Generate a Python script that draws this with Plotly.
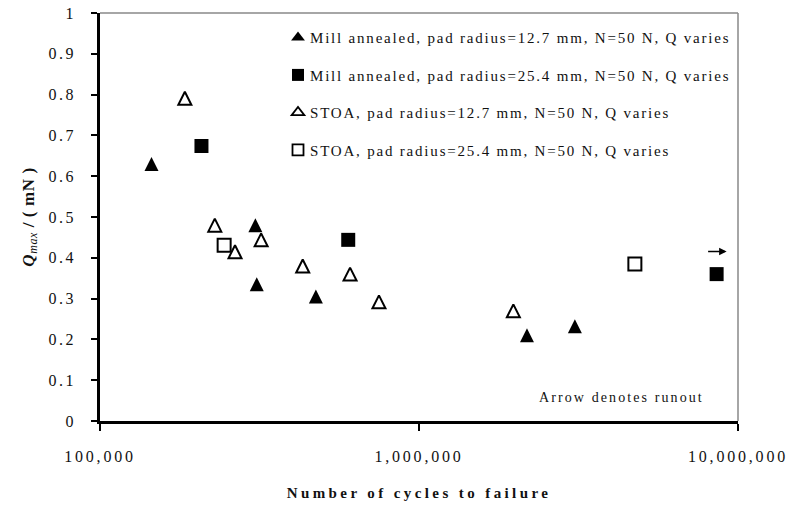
import numpy as np
import plotly.graph_objects as go

# ---------------- data ----------------
ma127_x = [145000, 307000, 310000, 475000, 2180000, 3080000]
ma127_y = [0.63, 0.48, 0.335, 0.305, 0.21, 0.232]

ma254_x = [208000, 600000, 8570000]
ma254_y = [0.674, 0.444, 0.36]

stoa127_x = [184500, 229000, 265000, 320000, 432000, 608000, 749000, 1976000]
stoa127_y = [0.791, 0.48, 0.415, 0.444, 0.38, 0.36, 0.292, 0.27]

stoa254_x = [245000, 4750000]
stoa254_y = [0.431, 0.385]

series_names = [
    "Mill annealed, pad radius=12.7 mm, N=50 N, Q varies",
    "Mill annealed, pad radius=25.4 mm, N=50 N, Q varies",
    "STOA, pad radius=12.7 mm, N=50 N, Q varies",
    "STOA, pad radius=25.4 mm, N=50 N, Q varies",
]

x_tick_vals = [100000, 1000000, 10000000]
x_tick_text = ["100,000", "1,000,000", "10,000,000"]

runout_x = 8570000
runout_y = 0.36

FONT = "Liberation Serif"

data_markers = [
    dict(symbol="arrow-down", angle=180, standoff=7, size=14, color="black", line=dict(width=0)),
    dict(symbol="square", size=14, color="black", line=dict(width=0)),
    dict(symbol="arrow-down-open", angle=180, standoff=6.5, size=13, color="black",
         line=dict(width=2, color="black")),
    dict(symbol="square-open", size=13, color="black", line=dict(width=2, color="black")),
]
legend_markers = [
    dict(symbol="triangle-up", size=12, color="black", line=dict(width=0)),
    dict(symbol="square", size=12, color="black", line=dict(width=0)),
    dict(symbol="triangle-up-open", size=11, color="black", line=dict(width=1.8, color="black")),
    dict(symbol="square-open", size=11, color="black", line=dict(width=1.8, color="black")),
]
series_x = [ma127_x, ma254_x, stoa127_x, stoa254_x]
series_y = [ma127_y, ma254_y, stoa127_y, stoa254_y]

fig = go.Figure()
for i in range(4):
    fig.add_trace(go.Scatter(
        x=series_x[i], y=series_y[i], mode="markers", name=series_names[i],
        legendgroup=f"g{i}", showlegend=False, marker=data_markers[i],
    ))
for i in range(4):
    fig.add_trace(go.Scatter(
        x=[None], y=[None], mode="markers", name=series_names[i],
        legendgroup=f"g{i}", showlegend=True, marker=legend_markers[i],
        hoverinfo="skip",
    ))

fig.update_layout(
    width=790, height=512,
    margin=dict(l=100, r=52, t=13, b=91),
    paper_bgcolor="white", plot_bgcolor="white",
    font=dict(family=FONT, size=16, color="#111"),
    showlegend=True,
    legend=dict(
        x=0.279, y=0.980, xanchor="left", yanchor="top",
        bgcolor="rgba(0,0,0,0)", borderwidth=0,
        font=dict(family=FONT, size=15, color="#111"),
        tracegroupgap=15,
    ),
    xaxis=dict(
        type="log", range=[5, 7],
        tickvals=x_tick_vals, ticktext=x_tick_text,
        ticks="outside", ticklen=7, tickwidth=2, tickcolor="black",
        showline=True, linecolor="black", linewidth=2.5,
        showgrid=False, zeroline=False, automargin=False,
        ticklabelstandoff=12,
        tickfont=dict(family=FONT, size=16, color="#111"),
        title=dict(text="<b>Number of cycles to failure</b>", standoff=24,
                   font=dict(family=FONT, size=15, color="#111")),
    ),
    yaxis=dict(
        range=[0, 1], dtick=0.1, tick0=0,
        ticks="outside", ticklen=6, tickwidth=2, tickcolor="black",
        showline=True, linecolor="black", linewidth=2.5,
        showgrid=False, zeroline=False, automargin=False,
        ticklabelstandoff=12,
        tickfont=dict(family=FONT, size=16, color="#111"),
        title=dict(text="<b><i>Q</i></b><sub><i>max</i></sub><b> / ( mN )</b>", standoff=18,
                   font=dict(family=FONT, size=17, color="#111")),
    ),
    shapes=[
        dict(type="line", xref="paper", yref="paper", x0=0, x1=1, y0=1, y1=1,
             line=dict(color="#888", width=1.5)),
        dict(type="line", xref="paper", yref="paper", x0=1, x1=1, y0=0, y1=1,
             line=dict(color="#888", width=1.5)),
    ],
    annotations=[
        dict(text="Arrow denotes runout", xref="paper", yref="paper",
             x=(621 - 100) / 638, y=(421 - 397) / 408, xanchor="center", yanchor="middle",
             showarrow=False, font=dict(family=FONT, size=14, color="#111")),
        dict(text="", x=np.log10(runout_x), y=runout_y, xref="x", yref="y",
             xshift=10, yshift=22.5, showarrow=True, ax=-20, ay=0,
             arrowhead=2, arrowsize=1, arrowwidth=1.5, arrowcolor="black"),
    ],
)

post_script = """
(function(){
  document.body.style.margin = '0';
  var gd = document.getElementById('{plot_id}');
  function apply(){
    var rules = [['.xtick text','2.8px'],['.ytick text','2.5px'],['.legendtext','1.8px'],
                 ['.xtitle','3.4px'],['.ytitle','0.6px'],['.annotation-text','2.1px']];
    rules.forEach(function(r){
      gd.querySelectorAll(r[0]).forEach(function(t){ t.style.letterSpacing = r[1]; });
    });
    gd.querySelectorAll('.legend .scrollbox').forEach(function(e){ e.removeAttribute('clip-path'); });
    gd.querySelectorAll('.legendtext').forEach(function(t){ t.setAttribute('x', '32'); });
  }
  apply();
  if (gd.on) gd.on('plotly_afterplot', apply);
})();
"""

fig.write_html("out.html", post_script=post_script, config={"displayModeBar": False})
